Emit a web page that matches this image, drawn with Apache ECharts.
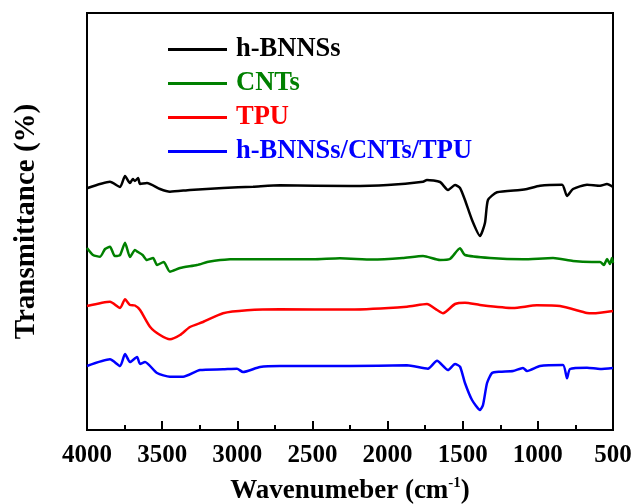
<!DOCTYPE html>
<html>
<head>
<meta charset="utf-8">
<script src="https://cdn.jsdelivr.net/npm/echarts@6/dist/echarts.min.js"></script>
<style>
  html, body { margin: 0; padding: 0; background: #fff; }
  #chart { width: 636px; height: 504px; }
</style>
</head>
<body>
<div id="chart"></div>
<script>
// x ticks (cm-1), shown right-to-left
const xTicks = [4000, 3500, 3000, 2500, 2000, 1500, 1000, 500];

// values, arbitrary transmittance units (offset curves)
const bnWave = [4000, 3847, 3780, 3747, 3714, 3695, 3681, 3660, 3647, 3601, 3514, 3448, 3315, 3095, 2895, 2716, 2250, 2000, 1764, 1738, 1651, 1598, 1551, 1518, 1485, 1438, 1385, 1352, 1332, 1272, 1119, 1072, 986, 839, 806, 766, 673, 586, 540, 500];
const bnT    = [241.7, 248.3, 243, 254, 247, 251, 249, 252, 246, 247, 241, 238.3, 240, 242, 243.3, 244.7, 244, 245, 248.3, 250, 248, 240, 245, 242, 230, 210, 194, 207, 230, 237.7, 240, 241, 244.3, 245.3, 234, 241, 245.3, 244.3, 246, 243];

const cntWave = [4000, 3960, 3913, 3880, 3847, 3815, 3780, 3747, 3714, 3681, 3661, 3630, 3601, 3560, 3534, 3490, 3448, 3381, 3268, 3200, 3162, 3048, 2829, 2496, 2317, 2100, 1900, 1764, 1651, 1585, 1518, 1485, 1318, 1099, 899, 766, 640, 586, 560, 540, 520, 507, 500];
const cntT    = [182, 175, 173.3, 181, 183.3, 174, 175, 187.3, 173, 180, 178, 175, 170, 172, 165, 168, 158.3, 162, 165, 168, 169, 170.7, 170.7, 170.7, 171.7, 170.5, 172, 174, 170, 171, 181.7, 175, 172, 170.7, 172, 169, 168, 168, 165, 171, 166, 172, 167];

const tpuWave = [4000, 3847, 3780, 3747, 3714, 3681, 3647, 3581, 3514, 3448, 3381, 3315, 3228, 3095, 2935, 2716, 2250, 1871, 1738, 1671, 1631, 1551, 1485, 1385, 1165, 1006, 853, 673, 633, 500];
const tpuT    = [124, 128.3, 122, 130.7, 125, 124.5, 120, 103.3, 95, 90.7, 95, 103, 108, 116.7, 119.7, 120.7, 120.5, 123.3, 126, 120, 116.7, 126, 127.3, 125, 122, 124.7, 124, 117, 116.7, 119];

const compWave = [4000, 3847, 3780, 3747, 3714, 3667, 3647, 3614, 3534, 3448, 3361, 3248, 3095, 3002, 2962, 2849, 2716, 2250, 1871, 1731, 1671, 1598, 1551, 1518, 1485, 1438, 1385, 1365, 1338, 1305, 1252, 1165, 1099, 1072, 986, 833, 806, 786, 673, 586, 500];
const compT    = [64, 70.7, 64, 76, 68, 73, 66, 68, 57, 53.3, 53.3, 60, 60.7, 61.3, 58, 63, 64, 64, 64.7, 61.3, 69.3, 60, 66, 63.3, 47, 30, 20, 25, 47, 57, 58.3, 59, 62, 59, 64, 65, 51.7, 61, 62.3, 61, 62];

const seriesNames = ["h-BNNSs", "CNTs", "TPU", "h-BNNSs/CNTs/TPU"];
const seriesColors = ["#000000", "#008000", "#ff0000", "#0000ff"];
const seriesWave = [bnWave, cntWave, tpuWave, compWave];
const seriesT = [bnT, cntT, tpuT, compT];

const font = "'Liberation Serif', 'Times New Roman', serif";
const chart = echarts.init(document.getElementById("chart"), null, { renderer: "canvas" });

chart.setOption({
  animation: false,
  backgroundColor: "#fff",
  grid: {
    left: 87, right: 23, top: 13, bottom: 74,
    outerBoundsMode: "none",
    show: true, borderColor: "#000", borderWidth: 2
  },
  legend: {
    orient: "vertical",
    left: 163,
    top: 31,
    itemWidth: 59,
    itemHeight: 3,
    itemGap: 7,
    icon: "rect",
    data: seriesNames.map((n, i) => ({
      name: n,
      textStyle: { color: seriesColors[i], fontFamily: font, fontWeight: "bold", fontSize: 26.5, padding: [0, 0, 0, 4] }
    }))
  },
  xAxis: {
    type: "value",
    inverse: true,
    min: 500,
    max: 4000,
    interval: 500,
    name: "{b|Wavenumeber (cm}{s|-1}{b|)}",
    nameLocation: "middle",
    nameGap: 46,
    nameTextStyle: {
      rich: {
        b: { fontFamily: font, fontWeight: "bold", fontSize: 27, color: "#000" },
        s: { fontFamily: font, fontWeight: "bold", fontSize: 15, color: "#000", verticalAlign: "top", padding: [0, 0, 16, 0] }
      }
    },
    axisLine: { show: true, lineStyle: { color: "#000", width: 2 } },
    axisTick: { show: true, inside: true, length: 9, lineStyle: { color: "#000", width: 2 } },
    minorTick: { show: true, splitNumber: 2, length: 5, lineStyle: { color: "#000", width: 2 } },
    splitLine: { show: false },
    axisLabel: {
      color: "#000", fontFamily: font, fontWeight: "bold", fontSize: 25, margin: 13,
      formatter: v => (xTicks.includes(v) ? String(v) : "")
    }
  },
  yAxis: {
    type: "value",
    min: 0,
    max: 417,
    name: "Transmittance (%)",
    nameLocation: "middle",
    nameGap: 46,
    nameTextStyle: { color: "#000", fontFamily: font, fontWeight: "bold", fontSize: 29 },
    axisLine: { show: true, lineStyle: { color: "#000", width: 2 } },
    axisTick: { show: false },
    axisLabel: { show: false },
    splitLine: { show: false }
  },
  series: seriesNames.map((n, i) => ({
    name: n,
    type: "line",
    data: seriesWave[i].map((w, k) => [w, seriesT[i][k]]),
    showSymbol: false,
    smooth: 0.2,
    lineStyle: { color: seriesColors[i], width: 2.5 },
    itemStyle: { color: seriesColors[i] }
  }))
});
</script>
</body>
</html>
